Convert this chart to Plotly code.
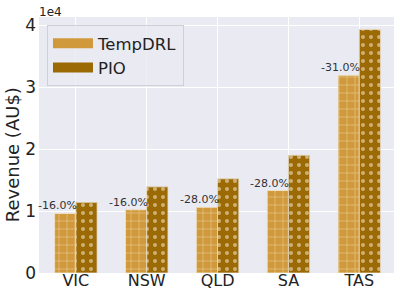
import plotly.graph_objects as go

categories = ["VIC", "NSW", "QLD", "SA", "TAS"]
tempdrl = [9600, 10200, 10600, 13300, 31900]
pio = [11400, 13900, 15200, 19000, 39300]
pct_labels = ["-16.0%", "-16.0%", "-28.0%", "-28.0%", "-31.0%"]
ytick_vals = [0, 10000, 20000, 30000, 40000]
ytick_text = ["0", "1", "2", "3", "4"]

FONT = "DejaVu Sans"
C1, C2 = "#D09A3C", "#9C6A05"
fig = go.Figure()
fig.add_trace(go.Bar(
    x=categories, y=tempdrl, name="TempDRL", showlegend=False,
    marker=dict(color=C1, line=dict(color="#F2E6D0", width=0.8),
                pattern=dict(shape="+", fgcolor="#FFF6E6", bgcolor=C1,
                             size=8, solidity=0.15, fillmode="overlay")),
))
fig.add_trace(go.Bar(
    x=categories, y=pio, name="PIO", showlegend=False,
    marker=dict(color=C2, line=dict(color="#E8DCC4", width=0.8),
                pattern=dict(shape=".", fgcolor="#FFF6E6", bgcolor=C2,
                             size=8, solidity=0.2, fillmode="overlay")),
))
# legend swatches (wide rectangles like the reference)
for name, col in [("TempDRL", C1), ("PIO", C2)]:
    fig.add_trace(go.Scatter(x=[None], y=[None], mode="lines", name=name,
                             line=dict(color=col, width=11)))

for i, (lab, v) in enumerate(zip(pct_labels, tempdrl)):
    fig.add_annotation(x=i, y=v, xref="x", yref="y", text=lab, showarrow=False,
                       xanchor="right", yanchor="bottom", yshift=-1, xshift=3,
                       font=dict(family=FONT, size=11, color="#333333"))

fig.add_annotation(x=0, y=1, xref="paper", yref="paper", text="1e4", showarrow=False,
                   xanchor="left", yanchor="bottom", yshift=-4, xshift=-2,
                   font=dict(family=FONT, size=12, color="#222222"))

fig.add_annotation(x=-27 / 355, y=0.46, xref="paper", yref="paper", text="Revenue (AU$)",
                   showarrow=False, textangle=-90, xanchor="center", yanchor="middle",
                   font=dict(family=FONT, size=18, color="#222222"))

fig.update_layout(
    width=399, height=299,
    margin=dict(l=39, r=5, t=17, b=26, autoexpand=False),
    paper_bgcolor="white", plot_bgcolor="#EAEAF2",
    barmode="group", bargap=0.4, bargroupgap=0,
    font=dict(family=FONT, size=16, color="#222222"),
    showlegend=True,
    legend=dict(x=0.0225, y=0.969, xanchor="left", yanchor="top",
                bgcolor="rgba(234,234,242,0.8)", bordercolor="#CFCFD6", borderwidth=1,
                font=dict(family=FONT, size=16.5, color="#222222"),
                itemwidth=40, tracegroupgap=0),
    xaxis=dict(range=[-0.52, 4.49], showgrid=True, gridcolor="white", gridwidth=1,
               ticks="", tickfont=dict(size=16), zeroline=False, automargin=False,
               ticklabelstandoff=-4),
    yaxis=dict(range=[0, 41300], tickvals=ytick_vals, ticktext=ytick_text,
               showgrid=True, gridcolor="white", gridwidth=1, ticks="",
               tickfont=dict(size=17), zeroline=False, automargin=False,
               ticklabelstandoff=2),
)

fig.write_html("out.html", config={"displayModeBar": False},
               post_script="document.body.style.margin='0';")
